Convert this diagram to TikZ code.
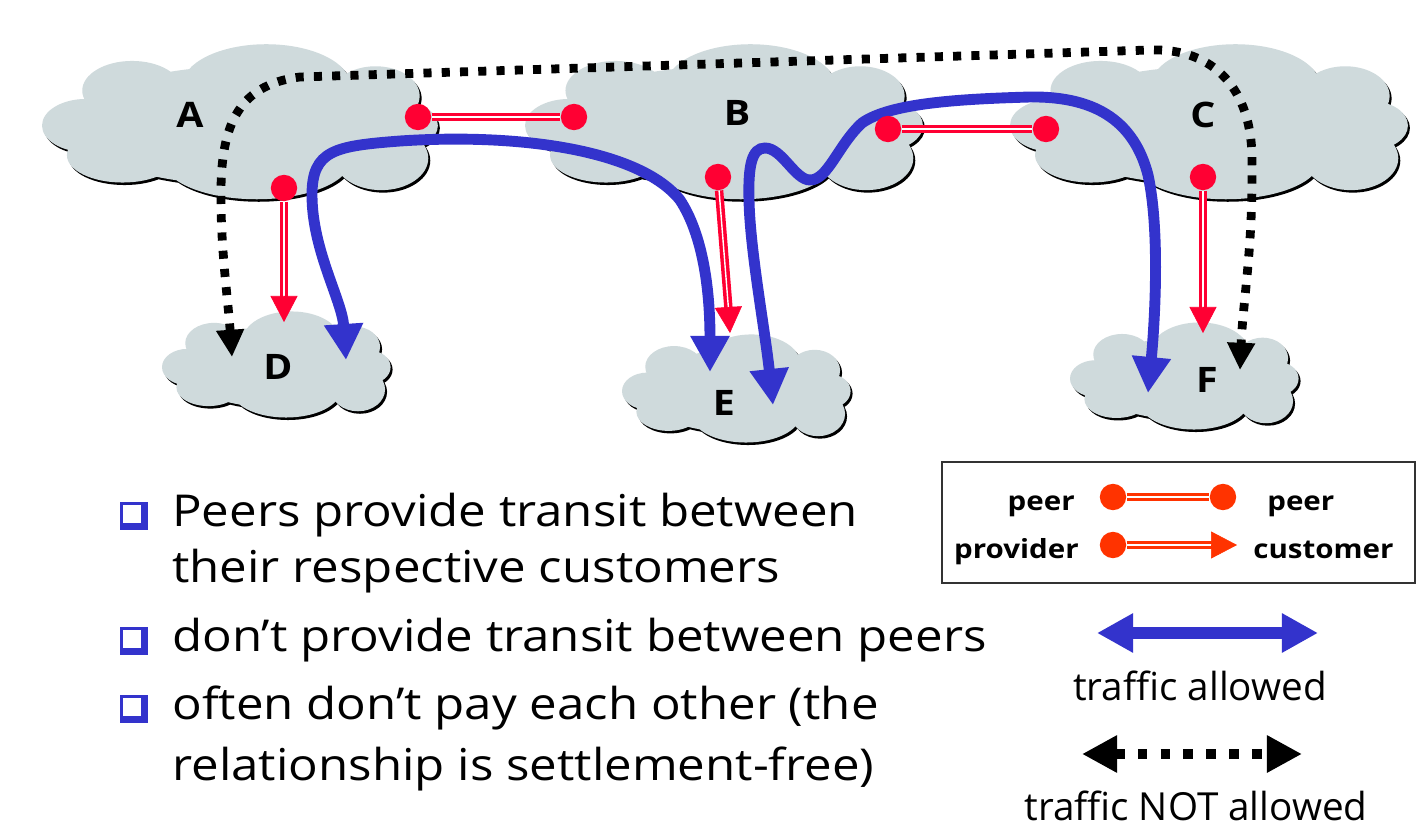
\documentclass[tikz,border=0pt]{standalone}
\usepackage{fontspec}
\setmainfont[FakeStretch=1.12]{Open Sans}
\newfontfamily\plainfont{Open Sans}
\usetikzlibrary{arrows.meta}
\definecolor{cloudgray}{RGB}{207,218,220}
\definecolor{cred}{RGB}{255,0,51}
\definecolor{corange}{RGB}{255,51,0}
\definecolor{cblue}{RGB}{51,51,204}

\newcommand{\cloudblobs}[1]{%
 \fill[#1] (-0.53,0.42) ellipse [x radius=0.26, y radius=0.39]
 (0.17,0.48) ellipse [x radius=0.44, y radius=0.55]
 (0.74,0.35) ellipse [x radius=0.23, y radius=0.39]
 (-0.77,-0.04) ellipse [x radius=0.23, y radius=0.35]
 (0.875,-0.04) ellipse [x radius=0.19, y radius=0.32]
 (-0.58,-0.43) ellipse [x radius=0.29, y radius=0.36]
 (0.12,-0.49) ellipse [x radius=0.49, y radius=0.52]
 (0.77,-0.47) ellipse [x radius=0.245, y radius=0.42]
 (0.04,-0.04) ellipse [x radius=0.88, y radius=0.78];}
\newcommand{\cloudat}[4]{%
 \begin{scope}[shift={(#1+2,#2+2.5)},xscale=#3,yscale=-#4]\cloudblobs{black}\end{scope}
 \begin{scope}[shift={(#1,#2)},xscale=#3,yscale=-#4]\cloudblobs{cloudgray}\end{scope}}
\newcommand{\bulletbox}[2]{%
 \fill[cblue] (#1,#2) rectangle (#1+28,#2+28);
 \fill[white] (#1+2.5,#2+2.5) rectangle (#1+21,#2+21);}

\tikzset{
 cloudlabel/.style={font=\fontsize{20}{24}\selectfont\bfseries, inner sep=0pt},
 rdot/.style={circle, fill=cred, minimum size=15pt, inner sep=0pt},
 odot/.style={circle, fill=corange, minimum size=15pt, inner sep=0pt},
 peerline/.style={draw=cred, double=white, line width=2pt, double distance=0.8pt},
 provtip/.style={draw=cred, line width=0.3pt, -{Triangle[length=14.8pt,width=15.4pt]}},
 allowed/.style={draw=cblue, line width=6.2pt, {Triangle[length=20.5pt,width=21pt]}-{Triangle[length=20.5pt,width=21pt]}},
 notallowed/.style={draw=black, line width=5pt, dash pattern=on 4.6pt off 5.8pt, {Triangle[length=15.5pt,width=15pt]}-{Triangle[length=15.5pt,width=15pt]}},
 bodytext/.style={font=\fontsize{25}{30}\selectfont, inner sep=0pt, anchor=base west},
 trafftext/.style={font=\plainfont\fontsize{22}{26}\selectfont, inner sep=0pt, anchor=base},
 legtext/.style={font=\fontsize{15}{18}\selectfont\bfseries, inner sep=0pt},
}

\begin{document}
\begin{tikzpicture}[x=0.02cm, y=-0.02cm]
\useasboundingbox (0,0) rectangle (1428,835);
\fill[white] (0,0) rectangle (1428,835);

% clouds
\cloudat{233.7}{122.5}{191.7}{76}
\cloudat{717.7}{122.5}{192.7}{76}
\cloudat{1202.7}{122.5}{192.7}{76}
\cloudat{272.7}{365}{110.7}{52}
\cloudat{732.7}{389}{110.7}{53}
\cloudat{1180.7}{376.5}{110.7}{52.5}

\node[cloudlabel] (A) at (190,115) {A};
\node[cloudlabel] (B) at (737,113) {B};
\node[cloudlabel] (C) at (1203,115) {C};
\node[cloudlabel] (D) at (278,367) {D};
\node[cloudlabel] (E) at (724,403) {E};
\node[cloudlabel] (F) at (1207,380) {F};

% traffic NOT allowed (A's customer D to C's customer F)
\coordinate (kD) at (232,357);
\coordinate (kF) at (1240,370);
\draw[notallowed] (kD) .. controls (228,300) and (221,250) .. (221,200)
  .. controls (220,130) and (235,85) .. (300,77) -- (1150,50)
  .. controls (1215,48) and (1252,90) .. (1252,160)
  .. controls (1253,250) and (1243,300) .. (kF);

% traffic allowed
\coordinate (bD) at (346,360);
\coordinate (bE1) at (710,372);
\draw[allowed] (bD) .. controls (342,300) and (312,250) .. (312,195)
  .. controls (312,150) and (335,146) .. (400,141)
  .. controls (520,133) and (640,150) .. (680,200)
  .. controls (703,235) and (710,290) .. (bE1);
\coordinate (bE2) at (773,405);
\coordinate (bF) at (1148,393);
\draw[allowed] (bE2) .. controls (765,330) and (750,250) .. (749,200)
  .. controls (748,165) and (752,148) .. (765,148)
  .. controls (782,148) and (795,180) .. (810,180)
  .. controls (828,180) and (838,145) .. (862,123)
  .. controls (890,103) and (960,99) .. (1030,97)
  .. controls (1100,96) and (1135,125) .. (1148,175)
  .. controls (1160,230) and (1155,320) .. (bF);

% peer links
\node[rdot] (ab1) at (418,117) {};
\node[rdot] (ab2) at (574,117) {};
\node[rdot] (bc1) at (888,129) {};
\node[rdot] (bc2) at (1046,129) {};
\draw[peerline] (ab1) -- (ab2);
\draw[peerline] (bc1) -- (bc2);

% provider-customer links
\node[rdot] (pA) at (284,188) {};
\node[rdot] (pB) at (718,177) {};
\node[rdot] (pC) at (1203,177) {};
\coordinate (hA) at (284,298);
\coordinate (tA) at (284,322);
\coordinate (hB) at (728.5,309);
\coordinate (tB) at (730,333);
\coordinate (hC) at (1203,309);
\coordinate (tC) at (1203,333);
\draw[peerline] (pA) -- (hA);
\draw[provtip] (hA) -- (tA);
\draw[peerline] (pB) -- (hB);
\draw[provtip] (hB) -- (tB);
\draw[peerline] (pC) -- (hC);
\draw[provtip] (hC) -- (tC);

% bullets
\bulletbox{120}{502}
\bulletbox{120}{627}
\bulletbox{120}{695}
\node[bodytext] (t1) at (172,526) {Peers provide transit between};
\node[bodytext] (t2) at (172,582) {their respective customers};
\node[bodytext] (t3) at (172,651) {don’t provide transit between peers};
\node[bodytext] (t4) at (172,719) {often don’t pay each other (the};
\node[bodytext] (t5) at (172,780) {relationship is settlement-free)};

% legend box
\node[draw=black!80, line width=0.8pt, minimum width=9.46cm, minimum height=2.42cm, inner sep=0pt] (legend) at (1178.5,522.5) {};
\node[odot] (lp1) at (1113,497) {};
\node[odot] (lp2) at (1223,497) {};
\draw[peerline, draw=corange] (lp1) -- (lp2);
\node[odot] (lq1) at (1113,545) {};
\coordinate (lqh) at (1212,545);
\coordinate (lqt) at (1237,545);
\draw[peerline, draw=corange] (lq1) -- (lqh);
\draw[provtip, draw=corange, fill=corange] (lqh) -- (lqt);
\node[legtext, anchor=base east] (lpl) at (1075,510) {peer};
\node[legtext, anchor=base west] (lpr) at (1267,510) {peer};
\node[legtext, anchor=base east] (lql) at (1079,558) {provider};
\node[legtext, anchor=base west] (lqr) at (1253,558) {customer};

% traffic legend
\coordinate (la1) at (1097,633);
\coordinate (la2) at (1318,633);
\draw[allowed, line width=7pt] (la1) -- (la2);
\node[trafftext] (lat) at (1200,700) {traffic allowed};
\coordinate (ln1) at (1082,754);
\coordinate (ln2) at (1302,754);
\draw[notallowed, line width=6pt, dash pattern=on 5.5pt off 7.5pt, {Triangle[length=20pt,width=20pt]}-{Triangle[length=20pt,width=20pt]}] (ln1) -- (ln2);
\node[trafftext] (lnt) at (1196,820) {traffic NOT allowed};
\end{tikzpicture}
\end{document}
